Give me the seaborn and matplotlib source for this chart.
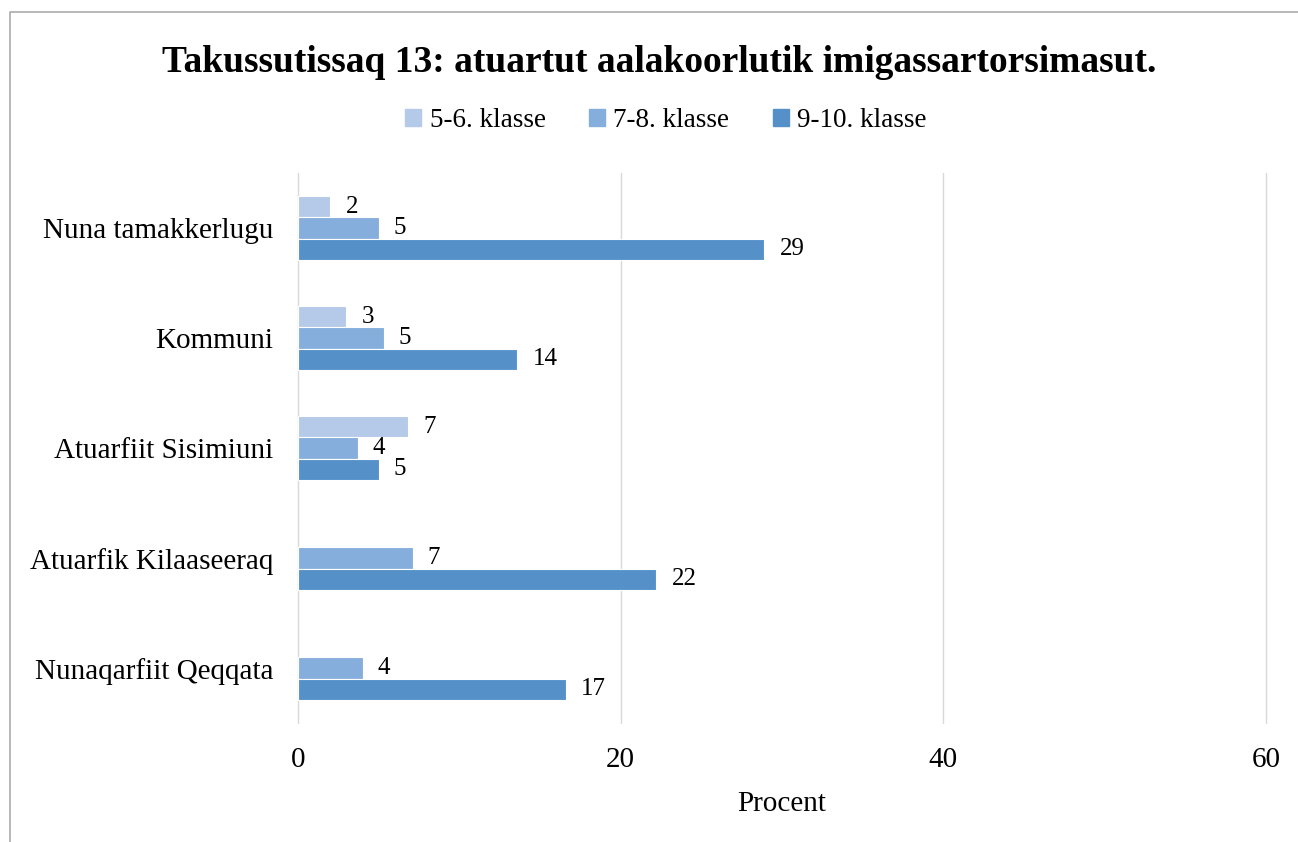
import pandas as pd
import matplotlib.pyplot as plt
import seaborn as sns
from matplotlib.patches import Rectangle
from matplotlib.lines import Line2D

# %% data

categories = ["Nuna tamakkerlugu", "Kommuni", "Atuarfiit Sisimiuni",
              "Atuarfik Kilaaseeraq", "Nunaqarfiit Qeqqata"]
series = ["5-6. klasse", "7-8. klasse", "9-10. klasse"]
vals_56 = [2.0, 3.0, 6.8, None, None]
vals_78 = [5.0, 5.3, 3.7, 7.1, 4.0]
vals_910 = [28.9, 13.6, 5.0, 22.2, 16.6]

rows = []
for s, vals in zip(series, [vals_56, vals_78, vals_910]):
    for c, v in zip(categories, vals):
        if v is not None:
            rows.append([c, s, v])
df = pd.DataFrame(rows, columns=["Kategori", "Klasse", "Procent"])

colors = ["#B4CAE8", "#86AEDC", "#5591C8"]

# %% plot

sns.set_theme(style="white")
plt.rcParams["font.family"] = ["Liberation Serif", "DejaVu Serif"]

fig = plt.figure(figsize=(12.98, 8.42), dpi=100)
ax = fig.add_axes([0.2296, 0.1413, 0.7457, 0.6532])

sns.barplot(data=df, y="Kategori", x="Procent", hue="Klasse",
            order=categories, hue_order=series, palette=colors,
            orient="h", width=0.58, edgecolor="white", linewidth=0.8,
            saturation=1, ax=ax, legend=False)

for cont in ax.containers:
    ax.bar_label(cont, fmt="%.0f", padding=11, fontsize=18, color="black")

ax.set_xlim(0, 60)
ax.set_xticks([0, 20, 40, 60])
ax.set_ylim(4.5, -0.5)
ax.grid(axis="x", color="#D9D9D9", linewidth=1)
for gl in ax.get_xgridlines():
    gl.set_clip_on(False)
ax.set_axisbelow(True)
for sp in ax.spines.values():
    sp.set_visible(False)
ax.tick_params(axis="x", labelsize=21, pad=17, length=0, colors="black")
ax.tick_params(axis="y", labelsize=21, pad=18, length=0, colors="black")
ax.set_ylabel("")
ax.set_xlabel("Procent", fontsize=21, labelpad=13, color="black")

fig.text(0.508, 0.926, "Takussutissaq 13: atuartut aalakoorlutik imigassartorsimasut.",
         ha="center", va="center", fontsize=27, fontweight="bold", color="black")

handles = [Rectangle((0, 0), 1, 1, color=c) for c in colors]
fig.legend(handles, series, loc="center", bbox_to_anchor=(0.513, 0.857),
           ncol=3, frameon=False, fontsize=19.5, handlelength=0.6,
           handleheight=0.6, handletextpad=0.3, columnspacing=1.6,
           labelcolor="black")

# chart border: only top and left edges are visible in the crop
x0, y0 = 10 / 1298, 1 - 12 / 842
fig.lines.append(Line2D([x0, x0, 1.0], [0.0, y0, y0], transform=fig.transFigure,
                        color="#ABABAB", linewidth=1.2))

fig.savefig("out.png", dpi=100)
